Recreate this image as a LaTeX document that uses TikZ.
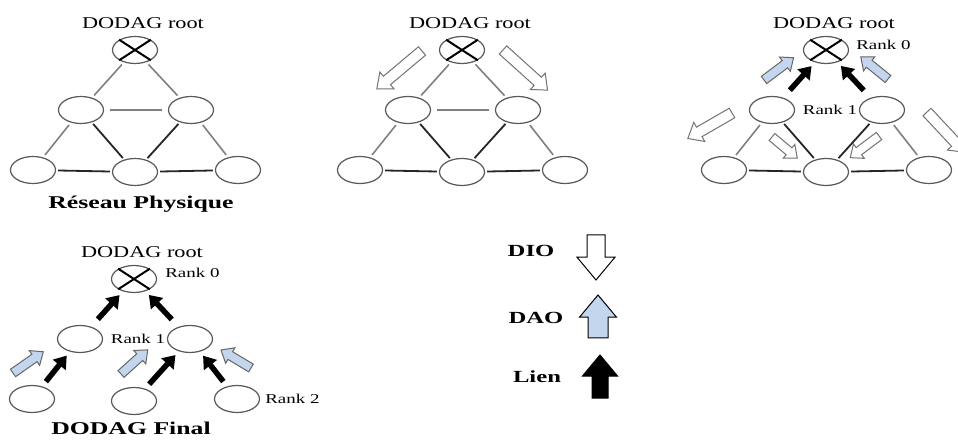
\documentclass[tikz,border=0pt]{standalone}
\usepackage{fontspec}
\setmainfont{Liberation Serif}
\usetikzlibrary{shapes.geometric,arrows.meta,calc}
\definecolor{daoblue}{RGB}{195,214,238}
\newcommand{\blockarrow}[6][]{%
  \begin{scope}[shift={#2},rotate=#3]
    \draw[#1] (0,#5) -- ({#4-1.2*#6},#5) -- ({#4-1.2*#6},#6) -- (#4,0)
      -- ({#4-1.2*#6},-#6) -- ({#4-1.2*#6},-#5) -- (0,-#5) -- cycle;
  \end{scope}}
\tikzset{
  noeud/.style={ellipse,draw=black!65,line width=1.2pt,minimum width=45pt,minimum height=27pt,inner sep=0pt},
  croix/.style={line width=2pt,black},
  gris/.style={draw=black!50,line width=1.6pt,shorten <=3pt,shorten >=3pt},
  noir/.style={draw=black!85,line width=1.8pt,shorten <=2pt,shorten >=2pt},
  lien/.style={-{Triangle[width=16pt,length=12pt]},line width=5.5pt,shorten <=6pt,shorten >=5pt},
  dio/.style={draw=black!55,fill=white,line width=1pt},
  dao/.style={draw=black!60,fill=daoblue,line width=1pt},
  lienfleche/.style={draw=black,fill=black,line width=1pt},
  titre/.style={font=\fontsize{16.5}{18}\selectfont,xscale=1.35,inner sep=0pt},
  rang/.style={font=\fontsize{13.5}{15}\selectfont,xscale=1.4,inner sep=0pt},
  gras/.style={font=\bfseries\fontsize{18}{20}\selectfont,xscale=1.43,inner sep=0pt},
  legende/.style={font=\bfseries\fontsize{17}{19}\selectfont,xscale=1.45,inner sep=0pt}
}
\begin{document}
\begin{tikzpicture}[x=1pt,y=-1pt]
  \clip (0,0) rectangle (958,443);
  \fill[white] (0,0) rectangle (958,443);

  \foreach \p/\rx/\ry in {a/135/50, b/462/50, c/826/50, d/134/279}
  {
    \node[noeud] (\p0) at (\rx,\ry) {};
    \node[noeud] (\p1) at (\rx-54,\ry+60) {};
    \node[noeud] (\p2) at (\rx+56,\ry+60) {};
    \node[noeud] (\p3) at (\rx-102,\ry+120) {};
    \node[noeud] (\p4) at (\rx,\ry+122) {};
    \node[noeud] (\p5) at (\rx+103,\ry+120) {};
    \node[titre] (\p t) at (\rx+8,\ry-27) {DODAG root};
    \draw[croix] (\p0.147) -- (\p0.-33) (\p0.33) -- (\p0.-147);
  }

  % reseau physique
  \draw[gris] (a0) -- (a1);
  \draw[gris] (a0) -- (a2);
  \draw[gris,shorten <=6pt,shorten >=6pt] (a1) -- (a2);
  \draw[gris] (a1) -- (a3);
  \draw[gris] (a2) -- (a5);
  \draw[noir] (a1) -- (a4);
  \draw[noir] (a2) -- (a4);
  \draw[noir] (a3) -- (a4);
  \draw[noir] (a4) -- (a5);
  \node[gras] (physique) at (141,204) {Réseau Physique};

  % envoi des DIO
  \draw[gris] (b0) -- (b1);
  \draw[gris] (b0) -- (b2);
  \draw[gris,shorten <=6pt,shorten >=6pt] (b1) -- (b2);
  \draw[gris] (b1) -- (b3);
  \draw[gris] (b2) -- (b5);
  \draw[noir] (b1) -- (b4);
  \draw[noir] (b2) -- (b4);
  \draw[noir] (b3) -- (b4);
  \draw[noir] (b4) -- (b5);
  \blockarrow[dio]{(422,51)}{220}{59}{5.5}{11}
  \blockarrow[dio]{(503,50)}{-42}{60}{5.5}{11}

  % rang 1 et DAO
  \draw[gris] (c1) -- (c3);
  \draw[gris] (c2) -- (c5);
  \draw[noir] (c1) -- (c4);
  \draw[noir] (c2) -- (c4);
  \draw[noir] (c3) -- (c4);
  \draw[noir] (c4) -- (c5);
  \draw[lien,shorten <=10pt] (c1) -- (c0);
  \draw[lien,shorten <=10pt] (c2) -- (c0);
  \blockarrow[dao]{(764,80)}{37}{37}{4.5}{9}
  \blockarrow[dao]{(888,79)}{141}{35}{4.5}{9}
  \blockarrow[dio]{(732,113)}{210}{51}{5.5}{11}
  \blockarrow[dio]{(772,137)}{-40}{33}{4.5}{9}
  \blockarrow[dio]{(879,136)}{217}{36}{4.5}{9}
  \blockarrow[dio]{(927,112)}{-47}{55}{5.5}{11}
  \node[rang,anchor=west] (c0r) at ([shift={(7,-5)}]c0.east) {Rank 0};
  \node[rang] (c1r) at ([xshift=3pt]$(c1)!0.5!(c2)$) {Rank 1};

  % DODAG final
  \draw[lien,shorten <=10pt] (d1) -- (d0);
  \draw[lien,shorten <=10pt] (d2) -- (d0);
  \draw[lien] (d3) -- (d1);
  \draw[lien] (d4) -- (d2);
  \draw[lien] (d5) -- (d2);
  \blockarrow[dao]{(13,373)}{35}{37}{4.5}{9}
  \blockarrow[dao]{(121,374)}{42}{36}{4.5}{9}
  \blockarrow[dao]{(251,368)}{149}{35}{4.5}{9}
  \node[rang,anchor=west] (d0r) at ([shift={(8,-6)}]d0.east) {Rank 0};
  \node[rang] (d1r) at ([xshift=3pt]$(d1)!0.5!(d2)$) {Rank 1};
  \node[rang,anchor=west] (d5r) at ([shift={(5,0)}]d5.east) {Rank 2};
  \node[gras] (final) at (131,428) {DODAG Final};

  % legende
  \node[legende] (dio) at (531,251) {DIO};
  \node[legende] (dao) at (536,318) {DAO};
  \node[legende] (lien) at (537,377) {Lien};
  \blockarrow[dio,draw=black]{(596,235)}{-90}{45}{9}{19}
  \blockarrow[dao,draw=black]{(598,338)}{90}{43}{10}{18.5}
  \blockarrow[lienfleche]{(600,398)}{90}{43}{8}{17.5}
\end{tikzpicture}
\end{document}
